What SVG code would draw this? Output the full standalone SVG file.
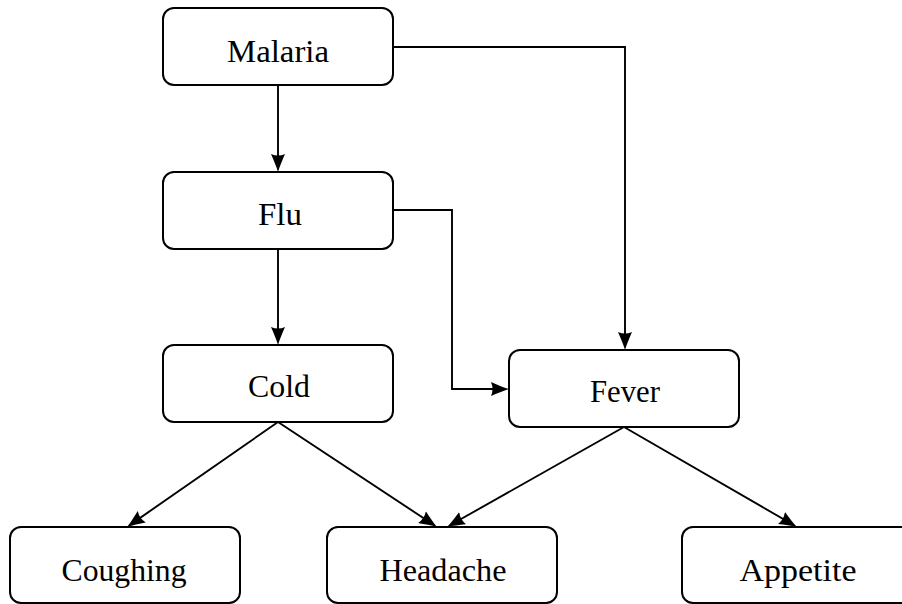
<svg xmlns="http://www.w3.org/2000/svg" width="902" height="604" viewBox="0 0 902 604">
  <style>
    .box { fill: #ffffff; stroke: #000000; stroke-width: 2; }
    .label { font-family: "Liberation Serif", "DejaVu Serif", serif; font-size: 31px; fill: #000000; text-anchor: middle; }
    .edge { fill: none; stroke: #000000; stroke-width: 1.9; marker-end: url(#tip); }
  </style>
  <defs>
    <marker id="tip" markerUnits="userSpaceOnUse" viewBox="0 0 18 15" markerWidth="18" markerHeight="15" refX="12" refY="7.5" orient="auto">
      <path d="M18,7.5 C12.5,6 6,3 0,0.5 Q3,7.5 0,14.5 C6,12 12.5,9 18,7.5 Z" fill="#000000"/>
    </marker>
  </defs>

  <!-- connectors -->
  <g id="edges">
    <path class="edge" d="M278,85 L278,166"/>
    <path class="edge" d="M278,249 L278,339"/>
    <path class="edge" d="M393,47 L625,47 L625,344"/>
    <path class="edge" d="M393,210 L452,210 L452,389 L503,389"/>
    <path class="edge" d="M278,422 L131.9,523.6"/>
    <path class="edge" d="M278,422 L432,523.7"/>
    <path class="edge" d="M624,427 L452.2,524"/>
    <path class="edge" d="M624,427 L791.8,524"/>
  </g>

  <!-- nodes -->
  <g id="malaria">
    <rect class="box" x="163" y="8" width="230" height="77" rx="11"/>
    <text class="label" x="278" y="62" textLength="102" lengthAdjust="spacingAndGlyphs">Malaria</text>
  </g>
  <g id="flu">
    <rect class="box" x="163" y="172" width="230" height="77" rx="11"/>
    <text class="label" x="280" y="225" textLength="44" lengthAdjust="spacingAndGlyphs">Flu</text>
  </g>
  <g id="cold">
    <rect class="box" x="163" y="345" width="230" height="77" rx="11"/>
    <text class="label" x="279" y="397" textLength="62" lengthAdjust="spacingAndGlyphs">Cold</text>
  </g>
  <g id="fever">
    <rect class="box" x="509" y="350" width="230" height="77" rx="11"/>
    <text class="label" x="625" y="402" textLength="70" lengthAdjust="spacingAndGlyphs">Fever</text>
  </g>
  <g id="coughing">
    <rect class="box" x="10" y="527" width="230" height="76" rx="11"/>
    <text class="label" x="124" y="581" textLength="125" lengthAdjust="spacingAndGlyphs">Coughing</text>
  </g>
  <g id="headache">
    <rect class="box" x="327" y="527" width="230" height="76" rx="11"/>
    <text class="label" x="443" y="581" textLength="127" lengthAdjust="spacingAndGlyphs">Headache</text>
  </g>
  <g id="appetite">
    <rect class="box" x="682" y="527" width="230" height="76" rx="11"/>
    <text class="label" x="798" y="581" textLength="117" lengthAdjust="spacingAndGlyphs">Appetite</text>
  </g>
</svg>
